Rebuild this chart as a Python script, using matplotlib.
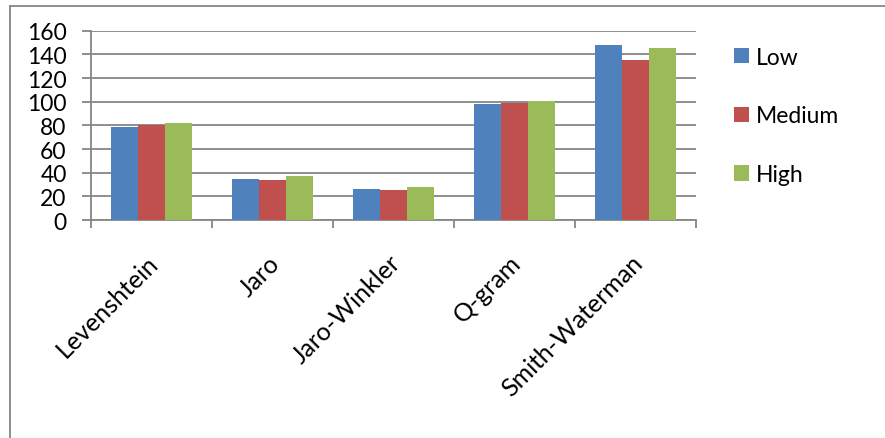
import matplotlib
matplotlib.use("Agg")
import matplotlib.pyplot as plt
import matplotlib.transforms as mtransforms
import numpy as np
from matplotlib.patches import Patch
from matplotlib.lines import Line2D

# Similarity measure results by level
categories = ["Levenshtein", "Jaro", "Jaro-Winkler", "Q-gram", "Smith-Waterman"]
low = [79, 35, 26, 98, 148]
medium = [80, 34, 25, 99, 135]
high = [82, 37, 28, 101, 145]
series_names = ["Low", "Medium", "High"]
colors = ["#4F81BD", "#C0504D", "#9BBB59"]
y_ticks = [0, 20, 40, 60, 80, 100, 120, 140, 160]

plt.rcParams["font.family"] = ["Lato", "DejaVu Sans"]
grey = "#868686"
fs = 16.5

fig = plt.figure(figsize=(8.85, 4.39), dpi=100)
ax = fig.add_axes([91 / 885, 1 - 221 / 439, 605 / 885, 189.3 / 439])

n = len(categories)
x = np.arange(n)
bw = 1 / 4.5  # gap width of 150% of a bar
for i, (vals, c, name) in enumerate(zip([low, medium, high], colors, series_names)):
    ax.bar(x + (i - 1) * bw, vals, width=bw, color=c, label=name, zorder=3)

ax.set_xlim(-0.5, n - 0.5)
ax.set_ylim(0, 160)
ax.set_yticks(y_ticks)
ax.yaxis.grid(True, color=grey, linewidth=1.3, zorder=0)

for s in ["top", "right"]:
    ax.spines[s].set_visible(False)
for s in ["left", "bottom"]:
    ax.spines[s].set_color(grey)
    ax.spines[s].set_linewidth(1.3)

ax.tick_params(axis="y", length=6.5, width=1.3, color=grey, labelsize=fs, pad=11)
ax.set_xticks(np.arange(n + 1) - 0.5)
ax.set_xticklabels([])
ax.tick_params(axis="x", which="major", length=6, width=1.3, color=grey)
ax.set_xticks(x, minor=True)
ax.set_xticklabels(categories, minor=True, rotation=45, ha="right", va="top",
                   rotation_mode="anchor", fontsize=18)
ax.tick_params(axis="x", which="minor", length=0, pad=22)
shift = mtransforms.ScaledTranslation(-5 / 100, 0, fig.dpi_scale_trans)
for lbl in ax.get_xticklabels(minor=True):
    lbl.set_transform(lbl.get_transform() + shift)

handles = [Patch(facecolor=c, edgecolor="none") for c in colors]
leg = fig.legend(handles, series_names, loc="upper left",
                 bbox_to_anchor=(713 / 885, 1 - 27 / 439), frameon=False,
                 fontsize=fs, handlelength=0.68, handleheight=0.68,
                 handletextpad=0.3, labelspacing=1.65)

# outer chart frame (left and top edges)
fig.add_artist(Line2D([10 / 885, 10 / 885], [0, 1 - 7 / 439], transform=fig.transFigure,
                      color=grey, linewidth=1.3))
fig.add_artist(Line2D([10 / 885, 1], [1 - 7 / 439, 1 - 7 / 439], transform=fig.transFigure,
                      color=grey, linewidth=1.3))

fig.savefig("out.png", dpi=100)
